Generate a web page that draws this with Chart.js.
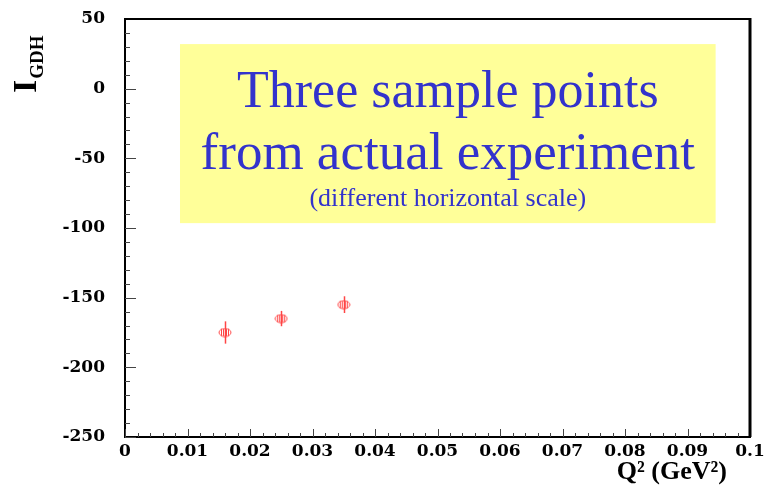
<!DOCTYPE html>
<html>
<head>
<meta charset="utf-8">
<script src="https://cdn.jsdelivr.net/npm/chart.js@4/dist/chart.umd.min.js"></script>
<style>
    html, body { margin: 0; padding: 0; background: #fff; }
    #wrap { width: 764px; height: 488px; }
</style>
</head>
<body>
<div id="wrap"><canvas id="gdhChart" width="764" height="488"></canvas></div>
<script>
// Data
const q2Values = [0.016, 0.025, 0.035];
const gdhValues = [-175, -165, -155];
const gdhErrors = [8, 5.5, 6];

// Axis ticks
const xTicks = [0, 0.01, 0.02, 0.03, 0.04, 0.05, 0.06, 0.07, 0.08, 0.09, 0.1];
const yTicks = [-250, -200, -150, -100, -50, 0, 50];

// Annotation box text
const noteLines = ['Three sample points', 'from actual experiment', '(different horizontal scale)'];

const RED = '#ff4545';
const BLUE = '#3333cc';
const TICK_FONT = { family: 'DejaVu Serif', size: 17, weight: 'bold' };

// Hatched ellipse marker
function makeMarker() {
    const c = document.createElement('canvas');
    c.width = 14;
    c.height = 10;
    const g = c.getContext('2d');
    g.strokeStyle = RED;
    g.lineWidth = 1;
    g.beginPath();
    g.ellipse(7, 5, 6, 4, 0, 0, Math.PI * 2);
    g.stroke();
    [3.5, 5.5, 8.5, 10.5].forEach(x => {
        g.beginPath();
        g.moveTo(x, 1.5);
        g.lineTo(x, 8.5);
        g.stroke();
    });
    return c;
}

// Yellow note box behind the points
const notePlugin = {
    id: 'note',
    beforeDatasetsDraw(chart) {
        const { ctx, scales: { x, y } } = chart;
        const left = x.getPixelForValue(0.0088);
        const right = x.getPixelForValue(0.0945);
        const top = y.getPixelForValue(32);
        const bottom = y.getPixelForValue(-96.5);
        const cx = (left + right) / 2;
        ctx.save();
        ctx.fillStyle = '#ffff99';
        ctx.fillRect(left, top, right - left, bottom - top);
        ctx.fillStyle = BLUE;
        ctx.textAlign = 'center';
        ctx.textBaseline = 'alphabetic';
        ctx.font = '52px "Liberation Serif"';
        ctx.fillText(noteLines[0], cx, top + 63);
        ctx.font = '53px "Liberation Serif"';
        ctx.fillText(noteLines[1], cx, top + 125);
        ctx.font = '26px "Liberation Serif"';
        ctx.fillText(noteLines[2], cx, top + 162);
        ctx.restore();
    }
};

// Vertical error bars
const errorBarPlugin = {
    id: 'errorBars',
    beforeDatasetsDraw(chart) {
        const { ctx, scales: { x, y } } = chart;
        ctx.save();
        ctx.strokeStyle = RED;
        ctx.lineWidth = 1.5;
        q2Values.forEach((q, i) => {
            const px = Math.round(x.getPixelForValue(q)) + 0.5;
            ctx.beginPath();
            ctx.moveTo(px, y.getPixelForValue(gdhValues[i] + gdhErrors[i]));
            ctx.lineTo(px, y.getPixelForValue(gdhValues[i] - gdhErrors[i]));
            ctx.stroke();
        });
        ctx.restore();
    }
};

// Frame, inward tick marks and axis titles
const framePlugin = {
    id: 'frame',
    afterDraw(chart) {
        const { ctx, chartArea: a, scales: { x, y } } = chart;
        ctx.save();

        // ticks
        ctx.strokeStyle = '#444';
        ctx.lineWidth = 1;
        for (let i = 0; i <= 50; i++) {
            const px = Math.round(x.getPixelForValue(i * 0.002)) + 0.5;
            const len = i % 5 === 0 ? 8 : 4;
            ctx.beginPath();
            ctx.moveTo(px, a.bottom);
            ctx.lineTo(px, a.bottom - len);
            ctx.stroke();
        }
        for (let i = 0; i <= 30; i++) {
            const py = Math.round(y.getPixelForValue(-250 + i * 10)) + 0.5;
            const len = i % 5 === 0 ? 11 : 5;
            ctx.beginPath();
            ctx.moveTo(a.left, py);
            ctx.lineTo(a.left + len, py);
            ctx.stroke();
        }

        // top and right edges of the frame
        ctx.strokeStyle = '#000';
        ctx.lineWidth = 2;
        ctx.beginPath();
        ctx.moveTo(a.left, a.top);
        ctx.lineTo(a.right, a.top);
        ctx.stroke();
        ctx.lineWidth = 3;
        ctx.beginPath();
        ctx.moveTo(a.right, a.top - 1);
        ctx.lineTo(a.right, a.bottom);
        ctx.stroke();

        // x title
        ctx.fillStyle = '#000';
        ctx.font = 'bold 26px "Liberation Serif"';
        ctx.textAlign = 'right';
        ctx.textBaseline = 'alphabetic';
        ctx.fillText('Q\u00b2 (GeV\u00b2)', 727, 479);

        // y title, rotated, with subscript
        ctx.translate(36, 93);
        ctx.rotate(-Math.PI / 2);
        ctx.textAlign = 'left';
        ctx.font = 'bold 34px "Liberation Serif"';
        ctx.fillText('I', 0, 0);
        const w = ctx.measureText('I').width;
        ctx.font = 'bold 19px "Liberation Serif"';
        ctx.fillText('GDH', w + 1, 7);
        ctx.restore();
    }
};

document.addEventListener('DOMContentLoaded', () => {
    const ctx = document.getElementById('gdhChart').getContext('2d');
    new Chart(ctx, {
        type: 'scatter',
        data: {
            datasets: [{
                label: 'I_GDH',
                data: q2Values.map((q, i) => ({ x: q, y: gdhValues[i] })),
                pointStyle: makeMarker(),
                pointRadius: 7,
                borderColor: RED,
                backgroundColor: RED
            }]
        },
        options: {
            responsive: false,
            animation: false,
            devicePixelRatio: 1,
            layout: {
                padding: { left: 0, right: 14, top: 19, bottom: 0 }
            },
            plugins: {
                legend: { display: false },
                tooltip: { enabled: false }
            },
            scales: {
                x: {
                    type: 'linear',
                    min: 0,
                    max: 0.1,
                    afterBuildTicks: (scale) => {
                        scale.ticks = xTicks.map(v => ({ value: v }));
                    },
                    afterFit: (scale) => {
                        scale.height = 51;
                        scale.paddingLeft = 0;
                        scale.paddingRight = 0;
                    },
                    grid: { display: false, drawTicks: false },
                    border: { display: true, color: '#000', width: 2 },
                    ticks: {
                        color: '#000',
                        font: TICK_FONT,
                        padding: 4,
                        maxRotation: 0,
                        autoSkip: false,
                        callback: (v) => String(Number(v.toFixed(3)))
                    }
                },
                y: {
                    type: 'linear',
                    min: -250,
                    max: 50,
                    afterBuildTicks: (scale) => {
                        scale.ticks = yTicks.map(v => ({ value: v }));
                    },
                    afterFit: (scale) => {
                        scale.width = 125;
                        scale.paddingTop = 0;
                        scale.paddingBottom = 0;
                    },
                    grid: { display: false, drawTicks: false },
                    border: { display: true, color: '#000', width: 2 },
                    ticks: {
                        color: '#000',
                        font: TICK_FONT,
                        padding: 20,
                        autoSkip: false,
                        callback: (v) => String(v)
                    }
                }
            }
        },
        plugins: [notePlugin, errorBarPlugin, framePlugin]
    });
});
</script>
</body>
</html>
